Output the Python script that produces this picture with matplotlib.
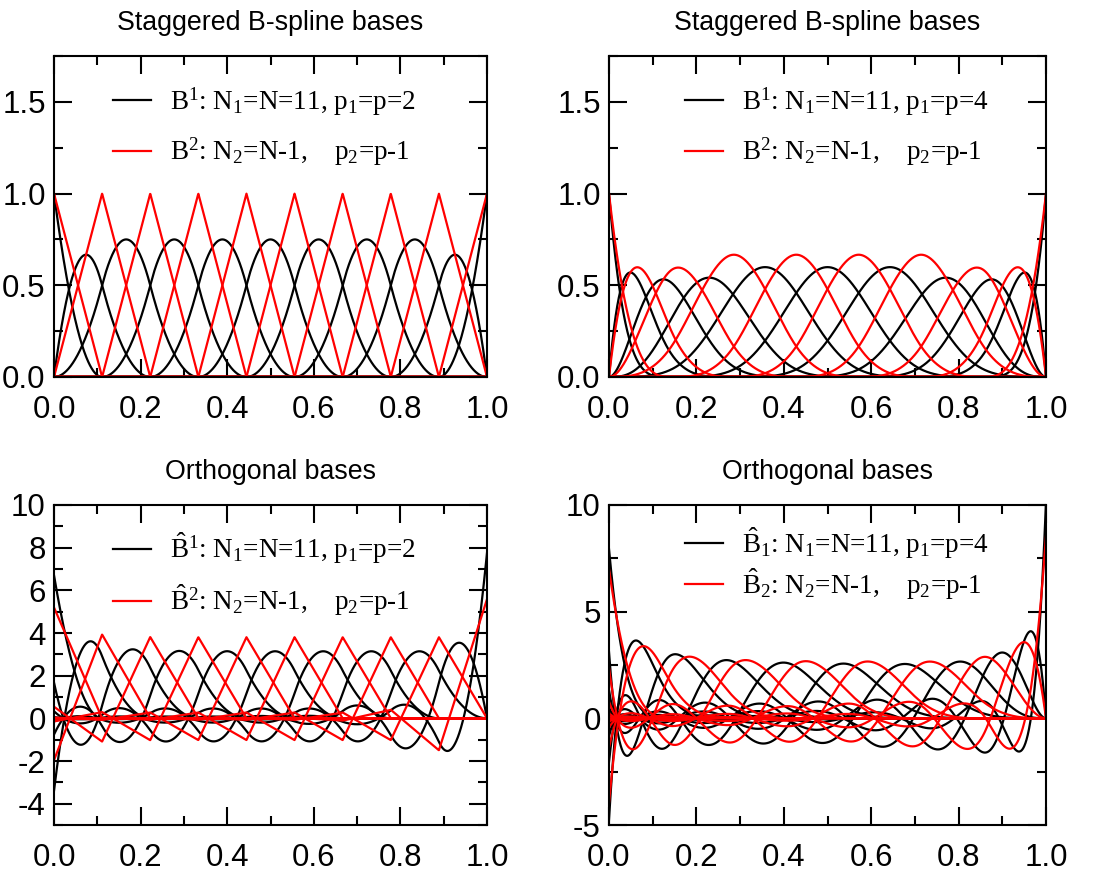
import numpy as np
import matplotlib
matplotlib.use("Agg")
import matplotlib.pyplot as plt
from matplotlib.ticker import MultipleLocator, FormatStrFormatter

plt.rcParams['font.family'] = ['Liberation Sans', 'DejaVu Sans']
plt.rcParams['mathtext.fontset'] = 'custom'
plt.rcParams['mathtext.rm'] = 'Liberation Serif'
plt.rcParams['mathtext.it'] = 'Liberation Serif:italic'
plt.rcParams['axes.unicode_minus'] = False

# spline space parameters: first space has N functions of degree p,
# the staggered one N-1 functions of degree p-1
n_basis = 11
degrees_left = 2
degrees_right = 4

titles_top = ["Staggered B-spline bases", "Staggered B-spline bases"]
titles_bottom = ["Orthogonal bases", "Orthogonal bases"]

x = np.linspace(0.0, 1.0, 2001)


def open_knots(n, p):
    nel = n - p
    inner = np.linspace(0.0, 1.0, nel + 1)[1:-1]
    return np.concatenate([np.zeros(p + 1), inner, np.ones(p + 1)])


def bspline_basis(n, p, t):
    # Cox-de Boor recursion
    kv = open_knots(n, p)
    t = np.asarray(t, dtype=float)
    m = len(kv) - 1
    B = np.zeros((m, t.size))
    for i in range(m):
        if kv[i] < kv[i + 1]:
            B[i] = (t >= kv[i]) & (t < kv[i + 1])
    # include right end point in the last non-empty interval
    last = max(i for i in range(m) if kv[i] < kv[i + 1])
    B[last, t == kv[-1]] = 1.0
    for k in range(1, p + 1):
        Bn = np.zeros((m - k, t.size))
        for i in range(m - k):
            a = kv[i + k] - kv[i]
            b = kv[i + k + 1] - kv[i + 1]
            if a > 0:
                Bn[i] += (t - kv[i]) / a * B[i]
            if b > 0:
                Bn[i] += (kv[i + k + 1] - t) / b * B[i + 1]
        B = Bn
    return B[:n]


def orthogonal_basis(n, p, t):
    # Gram-Schmidt (Cholesky of the mass matrix), left to right
    kv = open_knots(n, p)
    brk = np.unique(kv)
    gx, gw = np.polynomial.legendre.leggauss(p + 2)
    qx, qw = [], []
    for a, b in zip(brk[:-1], brk[1:]):
        qx.append(0.5 * (b - a) * gx + 0.5 * (a + b))
        qw.append(0.5 * (b - a) * gw)
    qx = np.concatenate(qx)
    qw = np.concatenate(qw)
    Bq = bspline_basis(n, p, qx)
    M = (Bq * qw) @ Bq.T
    L = np.linalg.cholesky(M)
    C = np.linalg.inv(L)
    return C @ bspline_basis(n, p, t)


def style_axes(ax, ymin, ymax, ymaj, ymin_step):
    ax.set_xlim(0, 1)
    ax.set_ylim(ymin, ymax)
    ax.xaxis.set_major_locator(MultipleLocator(0.2))
    ax.xaxis.set_minor_locator(MultipleLocator(0.1))
    ax.yaxis.set_major_locator(MultipleLocator(ymaj))
    ax.yaxis.set_minor_locator(MultipleLocator(ymin_step))
    ax.tick_params(which='both', direction='in', top=True, right=True, width=1.5)
    ax.tick_params(which='major', length=13, labelsize=22.5)
    ax.tick_params(which='minor', length=6.5)
    ax.tick_params(axis='x', which='major', pad=13)
    ax.tick_params(axis='y', which='major', pad=6)
    ax.xaxis.set_major_formatter(FormatStrFormatter('%.1f'))
    for s in ax.spines.values():
        s.set_linewidth(1.5)


fig = plt.figure(figsize=(11.06, 8.71), dpi=100)
W, H = 1106.0, 871.0
boxes = {
    'tl': (54, 56, 433, 321),
    'tr': (609, 56, 437, 321),
    'bl': (54, 505, 433, 320),
    'br': (609, 505, 437, 320),
}
axs = {}
for k, (l, t, w, h) in boxes.items():
    axs[k] = fig.add_axes([l / W, 1 - (t + h) / H, w / W, h / H])

# legend placement per panel: anchor (axes fraction) and row spacing
legend_pos = {
    'tl': ((0.136, 0.908), 0.66),
    'tr': ((0.174, 0.908), 0.66),
    'bl': ((0.136, 0.92), 0.62),
    'br': ((0.174, 0.936), 0.2),
}

lw = 1.6
panels = [
    ('tl', degrees_left, False),
    ('tr', degrees_right, False),
    ('bl', degrees_left, True),
    ('br', degrees_right, True),
]
for key, p, ortho in panels:
    ax = axs[key]
    n1, p1 = n_basis, p
    n2, p2 = n_basis - 1, p - 1
    f = orthogonal_basis if ortho else bspline_basis
    B1 = f(n1, p1, x)
    B2 = f(n2, p2, x)
    for row in B1:
        ax.plot(x, row, color='black', lw=lw)
    for row in B2:
        ax.plot(x, row, color='red', lw=lw)

    if not ortho:
        lab1 = r'$\mathrm{B}^{1}$: N$_{1}$=N=%d, p$_{1}$=p=%d' % (n1, p1)
        lab2 = r'$\mathrm{B}^{2}$: N$_{2}$=N-1,    p$_{2}$=p-1'
    elif key == 'bl':
        lab1 = r'$\hat{\mathrm{B}}^{1}$: N$_{1}$=N=%d, p$_{1}$=p=%d' % (n1, p1)
        lab2 = r'$\hat{\mathrm{B}}^{2}$: N$_{2}$=N-1,    p$_{2}$=p-1'
    else:
        lab1 = r'$\hat{\mathrm{B}}_{1}$: N$_{1}$=N=%d, p$_{1}$=p=%d' % (n1, p1)
        lab2 = r'$\hat{\mathrm{B}}_{2}$: N$_{2}$=N-1,    p$_{2}$=p-1'
    h1, = ax.plot([], [], color='black', lw=lw)
    h2, = ax.plot([], [], color='red', lw=lw)
    anchor, spacing = legend_pos[key]
    ax.legend([h1, h2], [lab1, lab2], loc='upper left', bbox_to_anchor=anchor,
              frameon=False, borderpad=0, borderaxespad=0, handlelength=1.4,
              handletextpad=0.7, labelspacing=spacing,
              prop={'family': 'Liberation Serif', 'size': 19.5})

style_axes(axs['tl'], 0, 1.75, 0.5, 0.25)
style_axes(axs['tr'], 0, 1.75, 0.5, 0.25)
style_axes(axs['bl'], -5, 10, 2, 1)
style_axes(axs['br'], -5, 10, 5, 2.5)
for ax in (axs['tl'], axs['tr']):
    ax.yaxis.set_major_formatter(FormatStrFormatter('%.1f'))
axs['bl'].set_yticks([-4, -2, 0, 2, 4, 6, 8, 10])

axs['tl'].set_title(titles_top[0], fontsize=19.3, pad=19)
axs['tr'].set_title(titles_top[1], fontsize=19.3, pad=19)
axs['bl'].set_title(titles_bottom[0], fontsize=19.3, pad=19)
axs['br'].set_title(titles_bottom[1], fontsize=19.3, pad=19)

fig.savefig('out.png', dpi=100)
